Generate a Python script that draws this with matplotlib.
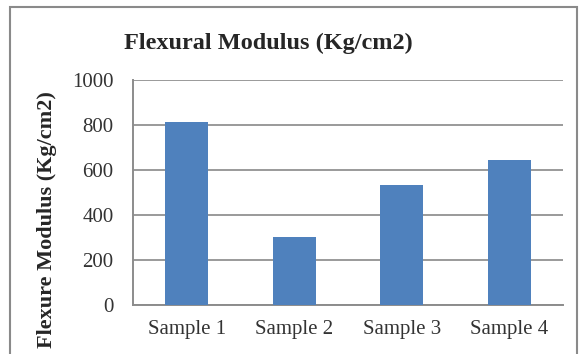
import matplotlib
matplotlib.use("Agg")
import matplotlib.pyplot as plt
from matplotlib.patches import Rectangle

samples = ["Sample 1", "Sample 2", "Sample 3", "Sample 4"]
modulus = [815, 303, 533, 645]
yticks = [0, 200, 400, 600, 800, 1000]

plt.rcParams['font.family'] = ['Liberation Serif', 'DejaVu Serif']

fig = plt.figure(figsize=(5.79, 3.54), dpi=100)
ax = fig.add_axes([0.2297, 0.1384, 0.7427, 0.6356])

ax.bar(samples, modulus, width=0.4, color="#4F81BD", zorder=3)

ax.set_ylim(0, 1000)
ax.set_xlim(-0.5, 3.5)
ax.set_yticks(yticks)
ax.grid(axis="y", color="#9a9a9a", linewidth=1.4, zorder=0)
ax.tick_params(axis="both", length=0, labelsize=15, colors="#333333")
ax.tick_params(axis="y", pad=14)
ax.tick_params(axis="x", pad=11)

for side in ("top", "right"):
    ax.spines[side].set_visible(False)
for side in ("left", "bottom"):
    ax.spines[side].set_color("#8c8c8c")
    ax.spines[side].set_linewidth(1.4)

fig.text(0.463, 0.876, "Flexural Modulus (Kg/cm2)", ha="center", va="center",
         fontsize=17.5, fontweight="bold", color="#262626")
fig.text(0.081, 0.38, "Flexure Modulus (Kg/cm2)", ha="center", va="center",
         rotation=90, fontsize=16, fontweight="bold", color="#262626")

# chart frame
fig.patches.append(Rectangle((10 / 579, -0.1), 567 / 579, 1.1 - 7 / 354,
                             transform=fig.transFigure, fill=False,
                             edgecolor="#8a8a8a", linewidth=1.5))

fig.savefig("out.png", dpi=100)
